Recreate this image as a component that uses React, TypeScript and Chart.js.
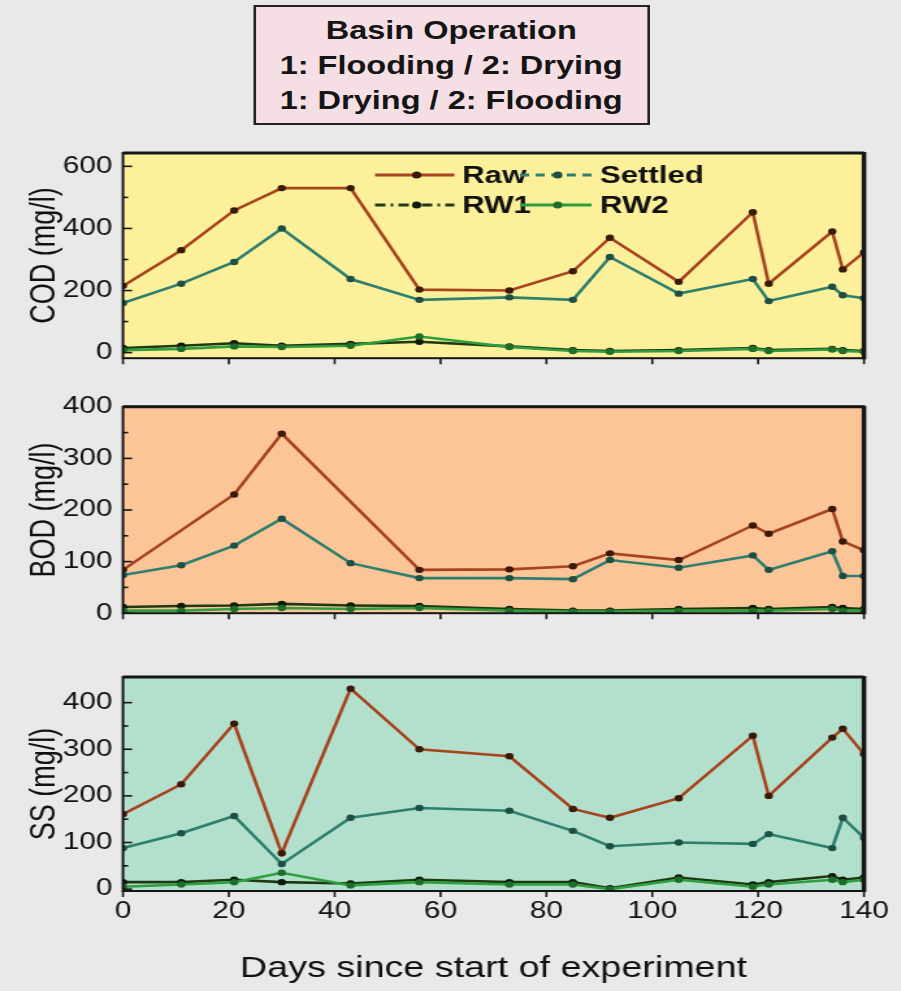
import React, { useEffect, useRef } from "react";
import { Chart, registerables } from "chart.js";

Chart.register(...registerables);

// ---------------- data ----------------
const days = [0, 11, 21, 30, 43, 56, 73, 85, 92, 105, 119, 122, 134, 136, 140];

const codRaw = [215, 330, 458, 530, 530, 203, 200, 262, 370, 228, 452, 222, 390, 268, 323];
const codSettled = [160, 222, 292, 400, 237, 170, 178, 170, 308, 190, 237, 166, 212, 185, 175];
const codRW1 = [15, 22, 30, 22, 28, 35, 20, 8, 5, 8, 15, 8, 12, 8, 5];
const codRW2 = [8, 12, 20, 18, 22, 52, 18, 5, 3, 5, 12, 5, 10, 5, 3];

const bodRaw = [84, null, 230, 348, null, 84, 85, 91, 116, 103, 170, 154, 202, 139, 122];
const bodSettled = [74, 93, 131, 183, 97, 68, 68, 66, 103, 88, 112, 84, 120, 72, 72];
const bodRW1 = [12, 14, 15, 18, 15, 14, 8, 5, 5, 8, 10, 8, 12, 10, 8];
const bodRW2 = [5, 5, 8, 10, 8, 10, 5, 3, 3, 5, 5, 5, 8, 5, 5];

const ssRaw = [161, 225, 355, 77, 430, 300, 285, 172, 153, 195, 329, 200, 325, 344, 290];
const ssSettled = [88, 120, 157, 54, 153, 174, 168, 125, 92, 100, 97, 118, 88, 153, 110];
const ssRW1 = [15, 15, 20, 15, 12, 20, 15, 15, 2, 25, 10, 15, 28, 20, 25];
const ssRW2 = [5, 10, 15, 35, 8, 15, 10, 10, 0, 20, 5, 10, 20, 15, 20];

const seriesNames = ["Raw", "Settled", "RW1", "RW2"];
const codTicks = [0, 200, 400, 600];
const codMinor = [100, 300, 500];
const bodTicks = [0, 100, 200, 300, 400];
const bodMinor = [50, 150, 250, 350];
const ssTicks = [0, 100, 200, 300, 400];
const ssMinor = [50, 150, 250, 350];
const xTicks = [0, 20, 40, 60, 80, 100, 120, 140];

const titleLines = ["Basin Operation", "1: Flooding / 2: Drying", "1: Drying / 2: Flooding"];
const xTitle = "Days since start of experiment";

// ---------------- layout / style ----------------
const SX = 1.3; // horizontal stretch of the whole figure
const W = 693;
const PLOT_L = 94.6;
const PLOT_R = 664.6;
const FONT = "'Liberation Sans', Arial, Helvetica, sans-serif";
const PAGE_BG = "#e9e9e9";

const COLORS = ["#a8431f", "#2f7f6f", "#1f3a12", "#2e9e3e"];
const POINT_COLORS = ["#3a1a0a", "#1d4f45", "#101a08", "#1d6e2a"];
const LEGEND_DASH = [[], [7, 5], [8, 4, 2, 4], []];

function toPoints(vals: (number | null)[]) {
  const pts: { x: number; y: number }[] = [];
  days.forEach((d, i) => {
    const v = vals[i];
    if (v !== null && v !== undefined) pts.push({ x: d, y: v });
  });
  return pts;
}

type Panel = {
  top: number;
  height: number;
  padTop: number;
  padBottom: number;
  yMin: number;
  yMax: number;
  yTicks: number[];
  yMinor: number[];
  yTitle: string;
  bg: string;
  series: (number | null)[][];
  bottom: boolean;
  legend: boolean;
};

const panels: Panel[] = [
  {
    top: 130, height: 250, padTop: 23, padBottom: 12,
    yMin: -18, yMax: 643, yTicks: codTicks, yMinor: codMinor,
    yTitle: "COD (mg/l)", bg: "#fdf09a",
    series: [codRaw, codSettled, codRW1, codRW2], bottom: false, legend: true,
  },
  {
    top: 385, height: 250, padTop: 20, padBottom: 19,
    yMin: 0, yMax: 400, yTicks: bodTicks, yMinor: bodMinor,
    yTitle: "BOD (mg/l)", bg: "#fcc597",
    series: [bodRaw, bodSettled, bodRW1, bodRW2], bottom: false, legend: false,
  },
  {
    top: 640, height: 351, padTop: 37, padBottom: 4,
    yMin: -4, yMax: 455, yTicks: ssTicks, yMinor: ssMinor,
    yTitle: "SS (mg/l)", bg: "#b2e0cc",
    series: [ssRaw, ssSettled, ssRW1, ssRW2], bottom: true, legend: false,
  },
];

const framePlugin = {
  id: "panelFrame",
  beforeDraw(chart: any, _args: any, opts: any) {
    const { ctx, chartArea: a } = chart;
    ctx.save();
    ctx.fillStyle = opts.bg;
    ctx.fillRect(a.left, a.top, a.right - a.left, a.bottom - a.top);
    ctx.restore();
  },
  afterDatasetsDraw(chart: any, _args: any, opts: any) {
    const { ctx, chartArea: a, scales } = chart;
    const line = (x1: number, y1: number, x2: number, y2: number) => {
      ctx.beginPath();
      ctx.moveTo(x1, y1);
      ctx.lineTo(x2, y2);
      ctx.stroke();
    };
    ctx.save();
    ctx.strokeStyle = "#151515";
    ctx.lineWidth = 1.6;
    for (const v of opts.yTicks) {
      const y = scales.y.getPixelForValue(v);
      line(a.left, y, a.left + 7, y);
    }
    for (const v of opts.yMinor) {
      const y = scales.y.getPixelForValue(v);
      line(a.left, y, a.left + 4, y);
    }
    for (const v of xTicks) {
      const x = scales.x.getPixelForValue(v);
      line(x, a.bottom, x, a.bottom + 6);
    }
    ctx.lineWidth = 2;
    ctx.strokeRect(a.left, a.top, a.right - a.left, a.bottom - a.top);
    ctx.lineWidth = 3.5;
    line(a.right, a.top - 1, a.right, a.bottom + 1);
    ctx.lineWidth = 3;
    line(a.left, a.top, a.right, a.top);

    if (opts.legend) {
      const rows = [a.top + 22, a.top + 52];
      const cols = [
        { x0: 288.5, x1: 352.5, tx: 355.5 },
        { x0: 400, x1: 458, tx: 461.5 },
      ];
      seriesNames.forEach((name, i) => {
        const c = cols[i % 2];
        const y = rows[Math.floor(i / 2)];
        ctx.save();
        ctx.strokeStyle = COLORS[i];
        ctx.lineWidth = 3;
        ctx.setLineDash(LEGEND_DASH[i]);
        line(c.x0, y, c.x1 - 3, y);
        ctx.setLineDash([]);
        ctx.fillStyle = POINT_COLORS[i];
        ctx.beginPath();
        ctx.arc((c.x0 + c.x1) / 2, y, 3.6, 0, Math.PI * 2);
        ctx.fill();
        ctx.fillStyle = "#111";
        ctx.font = `bold 24px ${FONT}`;
        ctx.textAlign = "left";
        ctx.textBaseline = "middle";
        ctx.fillText(name, c.tx, y + 1);
        ctx.restore();
      });
    }
    ctx.restore();
  },
};

function PanelChart({ p }: { p: Panel }) {
  const ref = useRef<HTMLCanvasElement | null>(null);
  useEffect(() => {
    if (!ref.current) return;
    const datasets = p.series.map((vals, i) => ({
      label: seriesNames[i],
      data: toPoints(vals),
      borderColor: COLORS[i],
      backgroundColor: POINT_COLORS[i],
      pointBackgroundColor: POINT_COLORS[i],
      pointBorderColor: POINT_COLORS[i],
      pointRadius: 3.2,
      pointBorderWidth: 0,
      borderWidth: 2.6,
      tension: 0,
      spanGaps: true,
      order: 4 - i,
    }));
    const chart = new Chart(ref.current, {
      type: "line",
      data: { datasets },
      options: {
        responsive: false,
        maintainAspectRatio: false,
        animation: false,
        events: [],
        layout: { padding: { left: 0, right: W - PLOT_R, top: p.padTop, bottom: p.padBottom } },
        plugins: {
          legend: { display: false },
          tooltip: { enabled: false },
          // @ts-ignore
          panelFrame: { bg: p.bg, yTicks: p.yTicks, yMinor: p.yMinor, legend: p.legend },
        },
        scales: {
          x: {
            type: "linear",
            min: 0,
            max: 140,
            display: p.bottom,
            afterBuildTicks: (s: any) => {
              s.ticks = xTicks.map((v) => ({ value: v }));
            },
            ticks: {
              font: { family: FONT, size: 23 },
              color: "#111",
              padding: 7,
              maxRotation: 0,
              autoSkip: false,
              callback: (v: any) => String(v),
            },
            grid: { display: false, drawTicks: false },
            border: { display: false },
            title: {
              display: p.bottom,
              text: xTitle,
              font: { family: FONT, size: 29 },
              color: "#111",
              padding: { top: 0, bottom: 1 },
            },
            afterFit: (s: any) => {
              s.height = p.bottom ? 96 : 0;
            },
          },
          y: {
            type: "linear",
            min: p.yMin,
            max: p.yMax,
            afterBuildTicks: (s: any) => {
              s.ticks = p.yTicks.map((v) => ({ value: v }));
            },
            ticks: {
              font: { family: FONT, size: 23 },
              color: "#111",
              padding: 8,
              callback: (v: any) => String(v),
            },
            grid: { display: false, drawTicks: false },
            border: { display: false },
            title: {
              display: true,
              text: p.yTitle,
              font: { family: FONT, size: 27 },
              color: "#111",
              padding: { top: 18, bottom: 0 },
            },
            afterFit: (s: any) => {
              s.width = PLOT_L;
            },
          },
        },
      },
      plugins: [framePlugin as any],
    });
    return () => chart.destroy();
  }, [p]);
  return (
    <canvas
      ref={ref}
      width={W}
      height={p.height}
      style={{ position: "absolute", left: 0, top: p.top, width: W, height: p.height }}
    />
  );
}

export default function App() {
  return (
    <div
      style={{
        position: "absolute",
        left: 0,
        top: 0,
        width: 901,
        height: 991,
        background: PAGE_BG,
        overflow: "hidden",
      }}
    >
      <div
        style={{
          position: "absolute",
          left: 0,
          top: 0,
          width: W,
          height: 991,
          transform: `scaleX(${SX})`,
          transformOrigin: "0 0",
        }}
      >
        <div
          style={{
            position: "absolute",
            left: 194.6,
            top: 5,
            width: 305,
            height: 120,
            boxSizing: "border-box",
            border: "2px solid #222",
            background: "#f5dee4",
            fontFamily: FONT,
            fontWeight: "bold",
            fontSize: 25,
            lineHeight: "35px",
            color: "#151515",
            textAlign: "center",
            paddingTop: 6,
          }}
        >
          {titleLines.map((t) => (
            <div key={t}>{t}</div>
          ))}
        </div>
        {panels.map((p) => (
          <PanelChart key={p.yTitle} p={p} />
        ))}
      </div>
    </div>
  );
}
